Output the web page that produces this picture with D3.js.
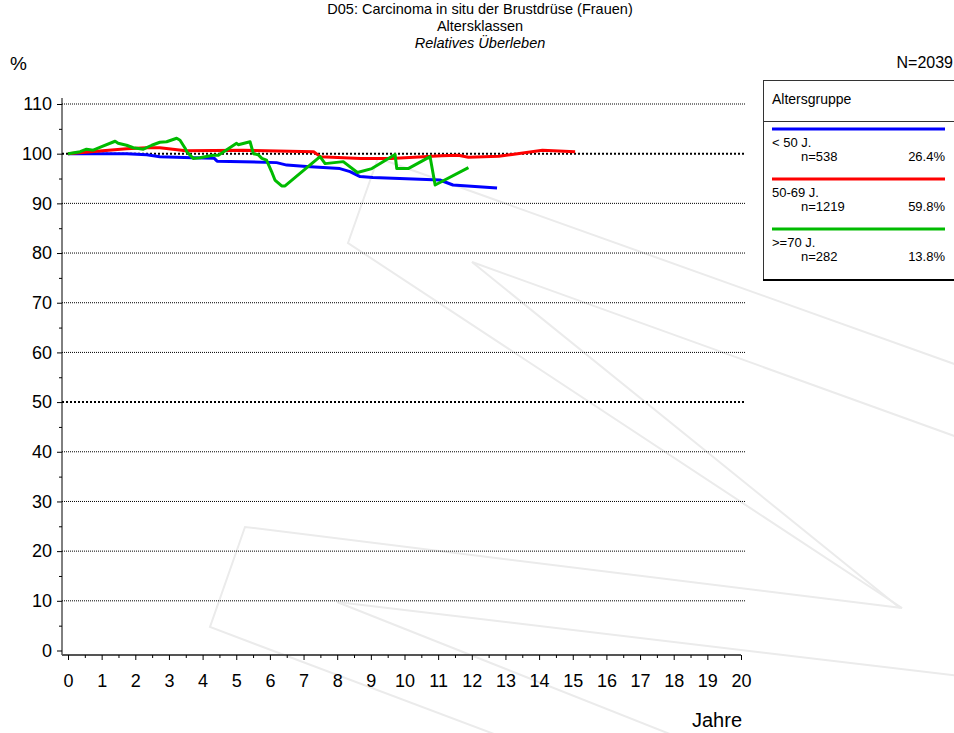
<!DOCTYPE html>
<html>
<head>
<meta charset="utf-8">
<script src="https://cdn.jsdelivr.net/npm/d3@7"></script>
<style>
  body { margin: 0; background: #fff; }
  svg { font-family: Arial, "Liberation Sans", sans-serif; }
</style>
</head>
<body>
<div id="chart"></div>
<script>
// Relatives Ueberleben nach Altersklassen (Jahre, Prozent)
var groups = ['< 50 J.', '50-69 J.', '>=70 J.'];
var groupN = ['n=538', 'n=1219', 'n=282'];
var groupPct = ['26.4%', '59.8%', '13.8%'];
var colors = ['#0000ff', '#ff0000', '#00bb00'];

var yearsU50 = [0, 1.74, 2.34, 2.73, 3.71, 4.34, 4.43, 6.2, 6.5, 7.09, 8.08, 8.38, 8.68, 9.06, 11.05, 11.44, 12.75];
var survU50  = [100, 100, 99.8, 99.4, 99.2, 99.1, 98.5, 98.2, 97.7, 97.4, 97.0, 96.4, 95.4, 95.2, 94.7, 93.7, 93.1];

var years5069 = [0, 0.5, 1.74, 2.34, 2.73, 3.5, 5.2, 7.3, 7.5, 8.7, 9.6, 11.1, 11.6, 11.9, 12.8, 13.2, 14.1, 15.07];
var surv5069  = [100, 100.3, 101.0, 101.2, 101.2, 100.6, 100.7, 100.4, 99.4, 99.05, 99.05, 99.6, 99.7, 99.3, 99.5, 99.85, 100.7, 100.4];

var years70 = [0, 0.36, 0.55, 0.75, 1.0, 1.4, 1.49, 1.74, 1.94, 2.24, 2.49, 2.73, 2.93, 3.23, 3.33, 3.48, 3.53, 3.72, 3.92,
  4.31, 4.47, 5.01, 5.06, 5.41, 5.51, 5.65, 5.76, 5.9, 6.05, 6.15, 6.35, 6.45, 7.49, 7.64, 8.18, 8.6, 9.03, 9.72, 9.77,
  10.11, 10.76, 10.91, 11.9];
var surv70 = [100, 100.4, 100.9, 100.7, 101.4, 102.5, 102.1, 101.7, 101.2, 100.9, 101.7, 102.3, 102.4, 103.1, 102.7, 101.1, 100.4, 99.05, 99.2,
  99.7, 99.7, 102.1, 101.8, 102.4, 100.0, 99.8, 99.05, 98.7, 96.4, 94.7, 93.5, 93.5, 99.4, 98.0, 98.4, 96.2, 97.0, 99.85, 97.0,
  97.0, 99.4, 93.7, 97.2];

var xTicks = d3.range(0, 21, 1);
var xMinor = d3.range(0.5, 20, 1);
var yTicks = d3.range(0, 111, 10);
var yMinor = d3.range(5, 110, 10);

var W = 954, H = 733;
var svg = d3.select('#chart').append('svg').attr('width', W).attr('height', H);

var x = d3.scaleLinear().domain([0, 20]).range([68, 741]);
var y = d3.scaleLinear().domain([0, 110]).range([650.5, 104]);

// watermark im Hintergrund
var wm = svg.append('g').attr('fill', 'none').attr('stroke', '#ebebeb').attr('stroke-width', 2);
[
  [[378, 158], [348, 243], [902, 608], [245, 527], [210, 627], [510, 740]],
  [[378, 158], [960, 366]],
  [[472, 262], [960, 438]],
  [[472, 262], [900, 608]],
  [[337, 602], [960, 676]],
  [[337, 602], [685, 740]]
].forEach(function(p){ wm.append('path').attr('d', d3.line()(p)); });

// gitterlinien
svg.append('g').selectAll('line').data(yTicks.filter(function(d){ return d > 0; })).enter()
  .append('line')
  .attr('x1', 62).attr('x2', 746)
  .attr('y1', function(d){ return y(d); }).attr('y2', function(d){ return y(d); })
  .attr('stroke', '#000')
  .attr('stroke-width', function(d){ return (d == 100 || d == 50) ? 2 : 1; })
  .attr('stroke-dasharray', function(d){ return (d == 100 || d == 50) ? '2,2' : '1,1'; });

// y-achse
var yAxis = svg.append('g').attr('transform', 'translate(62,0)')
  .call(d3.axisLeft(y).tickValues(yTicks).tickSize(5).tickPadding(5));
svg.append('g').attr('transform', 'translate(62,0)')
  .call(d3.axisLeft(y).tickValues(yMinor).tickSize(3).tickFormat(''))
  .select('.domain').remove();
yAxis.select('.domain').attr('d', 'M0,98V655');
yAxis.selectAll('text').attr('font-size', 18).attr('fill', '#000').attr('font-family', 'Arial, "Liberation Sans", sans-serif');

// x-achse
var xAxis = svg.append('g').attr('transform', 'translate(0,655)')
  .call(d3.axisBottom(x).tickValues(xTicks).tickSize(5).tickPadding(14));
svg.append('g').attr('transform', 'translate(0,655)')
  .call(d3.axisBottom(x).tickValues(xMinor).tickSize(3).tickFormat(''))
  .select('.domain').remove();
xAxis.select('.domain').attr('d', 'M62,0H741').attr('stroke', '#555').attr('stroke-width', 2);
xAxis.selectAll('text').attr('font-size', 18).attr('fill', '#000').attr('font-family', 'Arial, "Liberation Sans", sans-serif');

// kurven
var series = [[yearsU50, survU50], [years5069, surv5069], [years70, surv70]];
var line = d3.line().x(function(d){ return x(d[0]); }).y(function(d){ return y(d[1]); });
series.forEach(function(s, i){
  var pts = s[0].map(function(t, j){ return [t, s[1][j]]; });
  svg.append('path').datum(pts)
    .attr('d', line)
    .attr('fill', 'none')
    .attr('stroke', colors[i])
    .attr('stroke-width', 3)
    .attr('stroke-linejoin', 'round');
});

// titel
var title = svg.append('g').attr('text-anchor', 'middle').attr('font-size', 14.5);
title.append('text').attr('x', 480).attr('y', 14).text('D05: Carcinoma in situ der Brustdrüse (Frauen)');
title.append('text').attr('x', 480).attr('y', 31).text('Altersklassen');
title.append('text').attr('x', 480).attr('y', 48).attr('font-style', 'italic').text('Relatives Überleben');
svg.append('text').attr('x', 10).attr('y', 70).attr('font-size', 19).text('%');
svg.append('text').attr('x', 953).attr('y', 68).attr('font-size', 16).attr('text-anchor', 'end').text('N=2039');
svg.append('text').attr('x', 742).attr('y', 727).attr('font-size', 20).attr('text-anchor', 'end').text('Jahre');

// legende
var lg = svg.append('g');
lg.append('rect').attr('x', 763.5).attr('y', 80.5).attr('width', 200).attr('height', 200)
  .attr('fill', '#fff').attr('stroke', '#333').attr('stroke-width', 1);
lg.append('line').attr('x1', 763).attr('x2', 954).attr('y1', 280).attr('y2', 280).attr('stroke', '#000').attr('stroke-width', 2);
lg.append('text').attr('x', 772).attr('y', 104).attr('font-size', 14).text('Altersgruppe');
lg.append('line').attr('x1', 763).attr('x2', 954).attr('y1', 121.5).attr('y2', 121.5).attr('stroke', '#333');
groups.forEach(function(g, i){
  var top = 129 + i * 50;
  lg.append('line').attr('x1', 772).attr('x2', 945).attr('y1', top).attr('y2', top)
    .attr('stroke', colors[i]).attr('stroke-width', 3);
  lg.append('text').attr('x', 772).attr('y', top + 18).attr('font-size', 13).text(g);
  lg.append('text').attr('x', 801).attr('y', top + 32).attr('font-size', 13).text(groupN[i]);
  lg.append('text').attr('x', 945).attr('y', top + 32).attr('font-size', 13).attr('text-anchor', 'end').text(groupPct[i]);
});
</script>
</body>
</html>
